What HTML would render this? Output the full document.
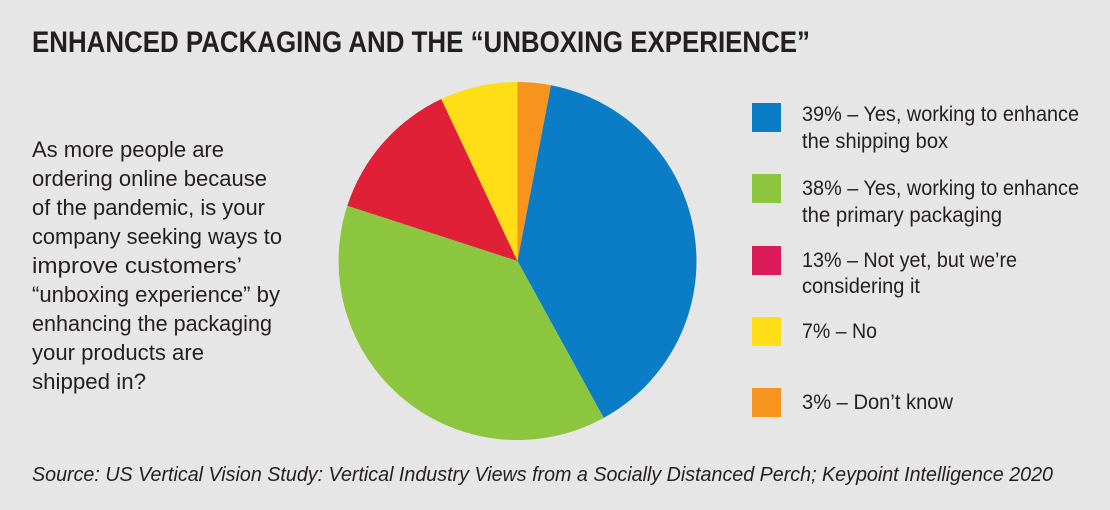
<!DOCTYPE html>
<html><head><meta charset="utf-8"><style>
html,body{margin:0;padding:0;background:#e6e6e6;}
svg{display:block;font-family:"Liberation Sans",sans-serif;}
</style></head><body>
<svg width="1110" height="510" viewBox="0 0 1110 510" xmlns="http://www.w3.org/2000/svg">
<rect width="1110" height="510" fill="#e6e6e6"/>
<text x="32" y="52" font-size="30" font-weight="bold" fill="#231f20" textLength="778" lengthAdjust="spacingAndGlyphs">ENHANCED PACKAGING AND THE “UNBOXING EXPERIENCE”</text>
<g font-size="22" fill="#231f20">
<text x="32" y="157" textLength="192" lengthAdjust="spacingAndGlyphs">As more people are</text>
<text x="32" y="186" textLength="235" lengthAdjust="spacingAndGlyphs">ordering online because</text>
<text x="32" y="215" textLength="233" lengthAdjust="spacingAndGlyphs">of the pandemic, is your</text>
<text x="32" y="244" textLength="250" lengthAdjust="spacingAndGlyphs">company seeking ways to</text>
<text x="32" y="273" textLength="210" lengthAdjust="spacingAndGlyphs">improve customers’</text>
<text x="32" y="302" textLength="248" lengthAdjust="spacingAndGlyphs">“unboxing experience” by</text>
<text x="32" y="331" textLength="240" lengthAdjust="spacingAndGlyphs">enhancing the packaging</text>
<text x="32" y="360" textLength="172" lengthAdjust="spacingAndGlyphs">your products are</text>
<text x="32" y="389" textLength="114" lengthAdjust="spacingAndGlyphs">shipped in?</text>
</g>
<g>
<path d="M517.5,261 L517.5,82 A179,179 0 0 1 551.0,85.2 Z" fill="#f7941d"/>
<path d="M517.5,261 L551.0,85.2 A179,179 0 0 1 603.7,417.9 Z" fill="#0a7dc6"/>
<path d="M517.5,261 L603.7,417.9 A179,179 0 0 1 347.3,205.7 Z" fill="#8cc63f"/>
<path d="M517.5,261 L347.3,205.7 A179,179 0 0 1 441.3,99.0 Z" fill="#e02037"/>
<path d="M517.5,261 L441.3,99.0 A179,179 0 0 1 517.5,82 Z" fill="#ffdd17"/>
</g>
<rect x="752" y="103" width="29" height="29" fill="#0a7dc6"/>
<rect x="752" y="174" width="29" height="29" fill="#8cc63f"/>
<rect x="752" y="246" width="29" height="29" fill="#db1b5a"/>
<rect x="752" y="317" width="29" height="29" fill="#ffdd17"/>
<rect x="752" y="388" width="29" height="29" fill="#f7941d"/>
<g font-size="21" fill="#231f20">
<text x="802" y="121" textLength="277" lengthAdjust="spacingAndGlyphs">39% – Yes, working to enhance</text>
<text x="802" y="148" textLength="146" lengthAdjust="spacingAndGlyphs">the shipping box</text>
<text x="802" y="195" textLength="277" lengthAdjust="spacingAndGlyphs">38% – Yes, working to enhance</text>
<text x="802" y="222" textLength="200" lengthAdjust="spacingAndGlyphs">the primary packaging</text>
<text x="802" y="267" textLength="215" lengthAdjust="spacingAndGlyphs">13% – Not yet, but we’re</text>
<text x="802" y="293" textLength="118" lengthAdjust="spacingAndGlyphs">considering it</text>
<text x="802" y="338" textLength="75" lengthAdjust="spacingAndGlyphs">7% – No</text>
<text x="802" y="409" textLength="151" lengthAdjust="spacingAndGlyphs">3% – Don’t know</text>
</g>
<text x="32" y="481" font-size="20" font-style="italic" fill="#231f20" textLength="1021" lengthAdjust="spacingAndGlyphs">Source: US Vertical Vision Study: Vertical Industry Views from a Socially Distanced Perch; Keypoint Intelligence 2020</text>
</svg>
</body></html>
